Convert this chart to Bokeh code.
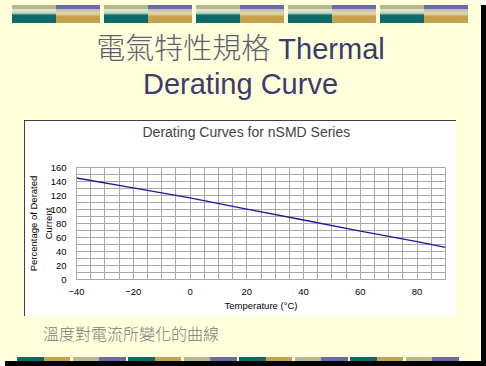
from bokeh.plotting import figure
from bokeh.models import Div, Range1d, FixedTicker, Title
from bokeh.layouts import column
from bokeh.embed import file_html
from bokeh.resources import INLINE

# ---- data ----
temperature = [-40, -20, 0, 20, 40, 60, 80, 90]
derated_pct = [145, 131, 116.5, 100.5, 85, 69, 54, 46]
x_ticks = [-40, -20, 0, 20, 40, 60, 80]
y_ticks = [0, 20, 40, 60, 80, 100, 120, 140, 160]

slide_title_cn = "電氣特性規格"
slide_title_en1 = "Thermal"
slide_title_en2 = "Derating Curve"
chart_title = "Derating Curves for nSMD Series"
x_label = "Temperature (°C)"
y_label = "Percentage of Derated\nCurrent"
caption = "溫度對電流所變化的曲線"

CREAM = "#ffffdc"
FONT = "Liberation Sans"
GRID = "#a8a8a8"

# ---- top decoration + slide title ----
def block(left):
    return (
        f'<div style="position:absolute;left:{left}px;top:5px;width:88px;height:18px;">'
        '<div style="position:absolute;left:0;top:0;width:44px;height:18px;'
        'background:linear-gradient(#b9b98f 0,#b9b98f 4px,#e4e8c8 4px,#cfe0c8 7px,#8fbfae 9px,#0b6b66 10px,#0b6b66 18px);"></div>'
        '<div style="position:absolute;left:44px;top:0;width:44px;height:18px;'
        'background:linear-gradient(#6b6ba6 0,#6b6ba6 4px,#b9b6c6 4px,#e3d6a6 8px,#dcc990 10px,#c7a24e 11px,#c7a24e 18px);"></div>'
        '</div>'
    )

top_html = '<div style="position:relative;width:481px;height:120px;">'
for i in range(5):
    top_html += block(12 + 92 * i)
top_html += (
    f'<div style="position:absolute;left:0;top:29px;width:481px;text-align:center;'
    f'font-family:\'{FONT}\',\'Noto Sans CJK TC\';font-size:29px;line-height:35px;color:#3b3b6e;">'
    f'<span style="font-family:\'Noto Sans CJK TC\';color:#5e5e6e;font-weight:300;">{slide_title_cn}</span> {slide_title_en1}<br>{slide_title_en2}</div>'
)
top_html += '</div>'
top_div = Div(text=top_html, width=481, height=120, margin=0)

# ---- chart ----
p = figure(
    width=432, height=196,
    x_range=Range1d(-40, 90), y_range=Range1d(0, 160),
    output_backend="svg", toolbar_location=None,
    title=chart_title,
    min_border_left=50, min_border_right=11, min_border_top=47, min_border_bottom=37,
    margin=(0, 0, 0, 24),
    styles={"outline": "1px solid #000", "outline-offset": "-1px"},
)
p.background_fill_color = "white"
p.border_fill_color = "white"
p.outline_line_color = GRID

p.title.text_font = FONT
p.title.text_font_size = "14px"
p.title.text_font_style = "normal"
p.title.align = "left"
p.title.offset = 66
p.title.standoff = 6
p.title.vertical_align = "top"

# empty spacer between the chart title and the plot area
p.add_layout(Title(text=" ", text_font_size="1px", standoff=20), "above")

p.xaxis.ticker = FixedTicker(ticks=x_ticks, minor_ticks=list(range(-40, 95, 5)))
p.yaxis.ticker = FixedTicker(ticks=y_ticks, minor_ticks=list(range(0, 170, 10)))

for ax in (p.xaxis[0], p.yaxis[0]):
    ax.axis_line_color = GRID
    ax.major_tick_line_color = None
    ax.minor_tick_line_color = None
    ax.major_tick_out = 0
    ax.major_tick_in = 0
    ax.minor_tick_out = 0
    ax.minor_tick_in = 0
    ax.major_label_text_font = FONT
    ax.major_label_text_font_size = "9.5px"
    ax.major_label_text_color = "black"
    ax.axis_label_text_font = FONT
    ax.axis_label_text_font_size = "9.5px"
    ax.axis_label_text_font_style = "normal"
    ax.axis_label_text_color = "black"

p.xaxis.axis_label = x_label
p.yaxis.axis_label = y_label
p.yaxis.axis_label_text_line_height = 1.35
p.xaxis.major_label_standoff = 9
p.yaxis.major_label_standoff = 10
p.xaxis.axis_label_standoff = 2
p.yaxis.axis_label_standoff = -6

p.xgrid.grid_line_color = GRID
p.ygrid.grid_line_color = GRID
p.xgrid.minor_grid_line_color = GRID
p.ygrid.minor_grid_line_color = GRID

p.line(temperature, derated_pct, line_color="#1a1a9c", line_width=1.3)

# ---- bottom caption + decoration ----
stripe_cols = ["#0b6b66", "#c7a24e", "#b9b98f", "#6b6ba6"]
bot_html = '<div style="position:relative;width:481px;height:45px;">'
bot_html += (
    f'<div style="position:absolute;left:43px;top:7px;font-family:\'Noto Sans CJK TC\';'
    f'font-size:16px;line-height:20px;color:#7a7a7a;font-weight:300;">{caption}</div>'
)
x0 = 17.0
for k in range(4):
    for j, c in enumerate(stripe_cols):
        left = x0 + k * 111 + j * 26.5 + (2.5 if j >= 2 else 0)
        bot_html += (f'<div style="position:absolute;left:{left:.1f}px;top:41px;width:26.5px;'
                     f'height:4px;background:{c};"></div>')
bot_html += '</div>'
bot_div = Div(text=bot_html, width=481, height=45, margin=0)

root = column(top_div, p, bot_div, spacing=0, width=481, height=361,
              styles={"background-color": CREAM, "box-shadow": "5px 5px 0 0 #000"})

open("out.html", "w").write(file_html(root, INLINE))
